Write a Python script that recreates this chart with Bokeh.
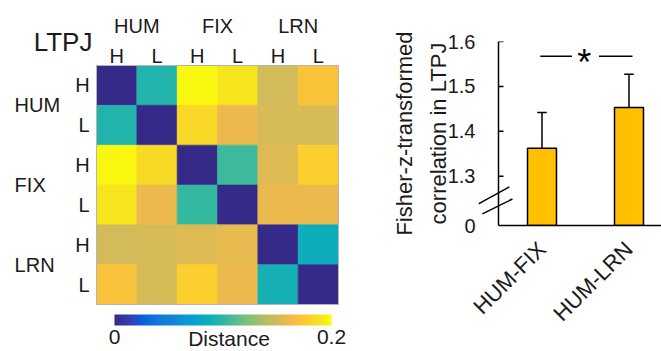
import numpy as np
from math import pi
from bokeh.plotting import figure
from bokeh.models import (Range1d, LinearColorMapper, ColorBar, FixedTicker,
                          ColumnDataSource, LinearAxis)
from bokeh.layouts import row
from bokeh.embed import file_html
from bokeh.resources import INLINE
from bokeh.core.properties import value

# ---------------- data ----------------
groups = ["HUM", "FIX", "LRN"]
levels = ["H", "L"]
distance = [
    [0.000, 0.095, 0.199, 0.190, 0.150, 0.171],
    [0.095, 0.000, 0.183, 0.160, 0.152, 0.152],
    [0.198, 0.185, 0.000, 0.104, 0.155, 0.178],
    [0.190, 0.160, 0.102, 0.000, 0.160, 0.160],
    [0.150, 0.152, 0.155, 0.158, 0.000, 0.086],
    [0.170, 0.152, 0.178, 0.160, 0.090, 0.000],
]
region_label = "LTPJ"
cbar_low, cbar_high = 0.0, 0.2
cbar_title = "Distance"

pairs = ["HUM-FIX", "HUM-LRN"]
corr_mean = [1.362, 1.453]
corr_err = [0.080, 0.074]
y_ticks = [1.3, 1.4, 1.5, 1.6]
y_zero_label = "0"
sig_text = "*"
y_title = "Fisher-z-transformed\ncorrelation in LTPJ"

# ---------------- style ----------------
FONT = "Liberation Sans"
TXT = "#1a1a1a"
BAR = "#FFC000"

# parula colormap stops (MATLAB), interpolated to 256
parula_stops = np.array([
    [0.2081, 0.1663, 0.5292], [0.2081, 0.2386, 0.6771], [0.0591, 0.3598, 0.8683],
    [0.0498, 0.4586, 0.8641], [0.0779, 0.5040, 0.8384], [0.0488, 0.5772, 0.8228],
    [0.0231, 0.6418, 0.7913], [0.0590, 0.6838, 0.7254], [0.1801, 0.7177, 0.6424],
    [0.3482, 0.7424, 0.5473], [0.5300, 0.7491, 0.4661], [0.6834, 0.7435, 0.4044],
    [0.8185, 0.7327, 0.3498], [0.9450, 0.7261, 0.2886], [0.9955, 0.7861, 0.1967],
    [0.9626, 0.8705, 0.1309], [0.9763, 0.9831, 0.0538]])
pos = np.linspace(0, 1, len(parula_stops))
palette = []
for t in np.linspace(0, 1, 256):
    rgb = [int(round(np.interp(t, pos, parula_stops[:, k]) * 255)) for k in range(3)]
    palette.append("#%02x%02x%02x" % tuple(rgb))

# ---------------- heatmap (whole canvas is the frame) ----------------
n = len(groups) * len(levels)
W1, H1 = 370, 351
hm_left, hm_right, hm_top, hm_bottom = 96, 338, 65, 304   # pixel box of the matrix
sx = (hm_right - hm_left) / n
sy = (hm_bottom - hm_top) / n
x_range1 = Range1d(-hm_left / sx, n + (W1 - hm_right) / sx)
y_range1 = Range1d(-(H1 - hm_bottom) / sy, n + hm_top / sy)

xs, ys, vs = [], [], []
for i in range(n):
    for j in range(n):
        xs.append(j + 0.5)
        ys.append(n - i - 0.5)
        vs.append(distance[i][j])
src = ColumnDataSource(dict(x=xs, y=ys, v=vs))
mapper = LinearColorMapper(palette=palette, low=cbar_low, high=cbar_high)

p1 = figure(width=W1, height=H1, x_range=x_range1, y_range=y_range1,
            x_axis_location=None, y_axis_location=None, toolbar_location=None,
            output_backend="svg", min_border=0, frame_align=False)
p1.grid.visible = False
p1.outline_line_color = None
p1.rect("x", "y", width=1, height=1, source=src,
        fill_color={"field": "v", "transform": mapper},
        line_color={"field": "v", "transform": mapper}, line_width=0.6)
p1.rect(x=[n / 2], y=[n / 2], width=n, height=n, fill_color=None,
        line_color="#b4b4b4", line_width=1)

sub_pos = [k + 0.5 for k in range(n)]
sub_txt = [levels[k % 2] for k in range(n)]
grp_pos = [2 * g + 1 for g in range(len(groups))]

# column labels (top)
p1.text(x=sub_pos, y=[n + 0.25] * n, text=sub_txt, text_align="center",
        text_baseline="middle", text_font=value(FONT), text_font_size="20px", text_color=TXT)
p1.text(x=grp_pos, y=[n + 0.99] * len(groups), text=groups, text_align="center",
        text_baseline="middle", text_font=value(FONT), text_font_size="20px", text_color=TXT)
# row labels (left)
p1.text(x=[-0.17] * n, y=[n - v for v in sub_pos], text=sub_txt, text_align="right",
        text_baseline="middle", text_font=value(FONT), text_font_size="20px", text_color=TXT)
p1.text(x=[-2.03] * len(groups), y=[n - v for v in grp_pos], text=groups, text_align="left",
        text_baseline="middle", text_font=value(FONT), text_font_size="20px", text_color=TXT)
p1.text(x=[-0.1], y=[n + 0.59], text=[region_label], text_align="right",
        text_baseline="middle", text_font=value(FONT), text_font_size="26px", text_color=TXT)

cb = ColorBar(color_mapper=mapper, ticker=FixedTicker(ticks=[cbar_low, cbar_high]),
              orientation="horizontal", width=217, height=11, padding=0, margin=0,
              location=(114, 5), major_tick_line_color=None, minor_tick_line_color=None,
              bar_line_color=None, major_label_text_font=FONT,
              major_label_text_font_size="21px", major_label_text_color=TXT,
              background_fill_alpha=0, border_line_color=None, label_standoff=4)
p1.add_layout(cb)
p1.text(x=[3.285], y=[-0.854], text=[cbar_title], text_align="center",
        text_baseline="middle", text_font=value(FONT), text_font_size="21px",
        text_color=TXT)

# ---------------- bar chart ----------------
base = 1.19          # where the axis break draws "0"
W2, H2 = 291, 351
left2 = 108
px_per_x = 87.0
axis_gap = 20        # frame starts this many px left of the drawn y axis
x0 = -axis_gap / px_per_x
x1 = x0 + (W2 - left2) / px_per_x
xpos = [k + 0.5 for k in range(len(pairs))]

p2 = figure(width=W2, height=H2, x_range=Range1d(x0, x1), y_range=Range1d(base, 1.6),
            x_axis_location=None, y_axis_location=None, toolbar_location=None,
            output_backend="svg", min_border_left=left2, min_border_right=0,
            min_border_top=41, min_border_bottom=126, frame_align=False)
p2.grid.visible = False
p2.outline_line_color = None

# bars and error bars
p2.vbar(x=xpos, top=corr_mean, bottom=base, width=0.333, fill_color=BAR,
        line_color="black", line_width=1.5)
tops = [m + e for m, e in zip(corr_mean, corr_err)]
p2.segment(x0=xpos, y0=corr_mean, x1=xpos, y1=tops, line_color="black", line_width=1.5)
p2.segment(x0=[x - 0.055 for x in xpos], y0=tops, x1=[x + 0.055 for x in xpos], y1=tops,
           line_color="black", line_width=1.5)

# significance marker
sig_y = 1.567
mid = (xpos[0] + xpos[1]) / 2
p2.segment(x0=[xpos[0] - 0.02, mid + 0.155], y0=[sig_y, sig_y],
           x1=[mid - 0.155, xpos[1] + 0.04], y1=[sig_y, sig_y], line_color="black", line_width=1.5)
p2.text(x=[mid - 0.015], y=[sig_y - 0.013], text=[sig_text], text_align="center",
        text_baseline="alphabetic", text_font=value(FONT), text_font_size="36px",
        text_color="black")

# drawn y axis line, inward ticks and break marks
p2.segment(x0=[0], y0=[base], x1=[0], y1=[1.6], line_color="black", line_width=1.5)
p2.segment(x0=[0] * len(y_ticks), y0=y_ticks, x1=[5 / px_per_x] * len(y_ticks), y1=y_ticks,
           line_color="black", line_width=1.5)
brk_y = 1.245
p2.segment(x0=[-0.23, -0.185], y0=[brk_y - 0.007, brk_y - 0.029],
           x1=[0.125, 0.16], y1=[brk_y + 0.031, brk_y + 0.004],
           line_color="black", line_width=1.5)

# y tick labels + title (axis line and ticks drawn above)
yax = LinearAxis(ticker=FixedTicker(ticks=[base] + y_ticks),
                 major_label_overrides={base: y_zero_label})
yax.axis_line_color = None
yax.major_tick_line_color = None
yax.major_tick_out = 0
yax.major_tick_in = 0
yax.minor_tick_line_color = None
yax.minor_tick_out = 0
yax.major_label_standoff = 3
yax.major_label_text_font = FONT
yax.major_label_text_font_size = "20px"
yax.major_label_text_color = TXT
yax.axis_label = y_title
yax.axis_label_text_font = FONT
yax.axis_label_text_font_size = "22px"
yax.axis_label_text_font_style = "normal"
yax.axis_label_text_color = TXT
yax.axis_label_text_line_height = 1.35
yax.axis_label_standoff = -6
p2.add_layout(yax, "left")

xax = LinearAxis(ticker=FixedTicker(ticks=xpos), bounds=(0, x1),
                 major_label_overrides={x: lab for x, lab in zip(xpos, pairs)})
xax.axis_line_color = "black"
xax.axis_line_width = 1.5
xax.major_tick_line_color = None
xax.minor_tick_line_color = None
xax.major_label_orientation = pi / 4
xax.major_label_standoff = 14
xax.major_label_text_font = FONT
xax.major_label_text_font_size = "22px"
xax.major_label_text_color = TXT
p2.add_layout(xax, "below")

layout = row(p1, p2)
open("out.html", "w").write(file_html(layout, INLINE))
